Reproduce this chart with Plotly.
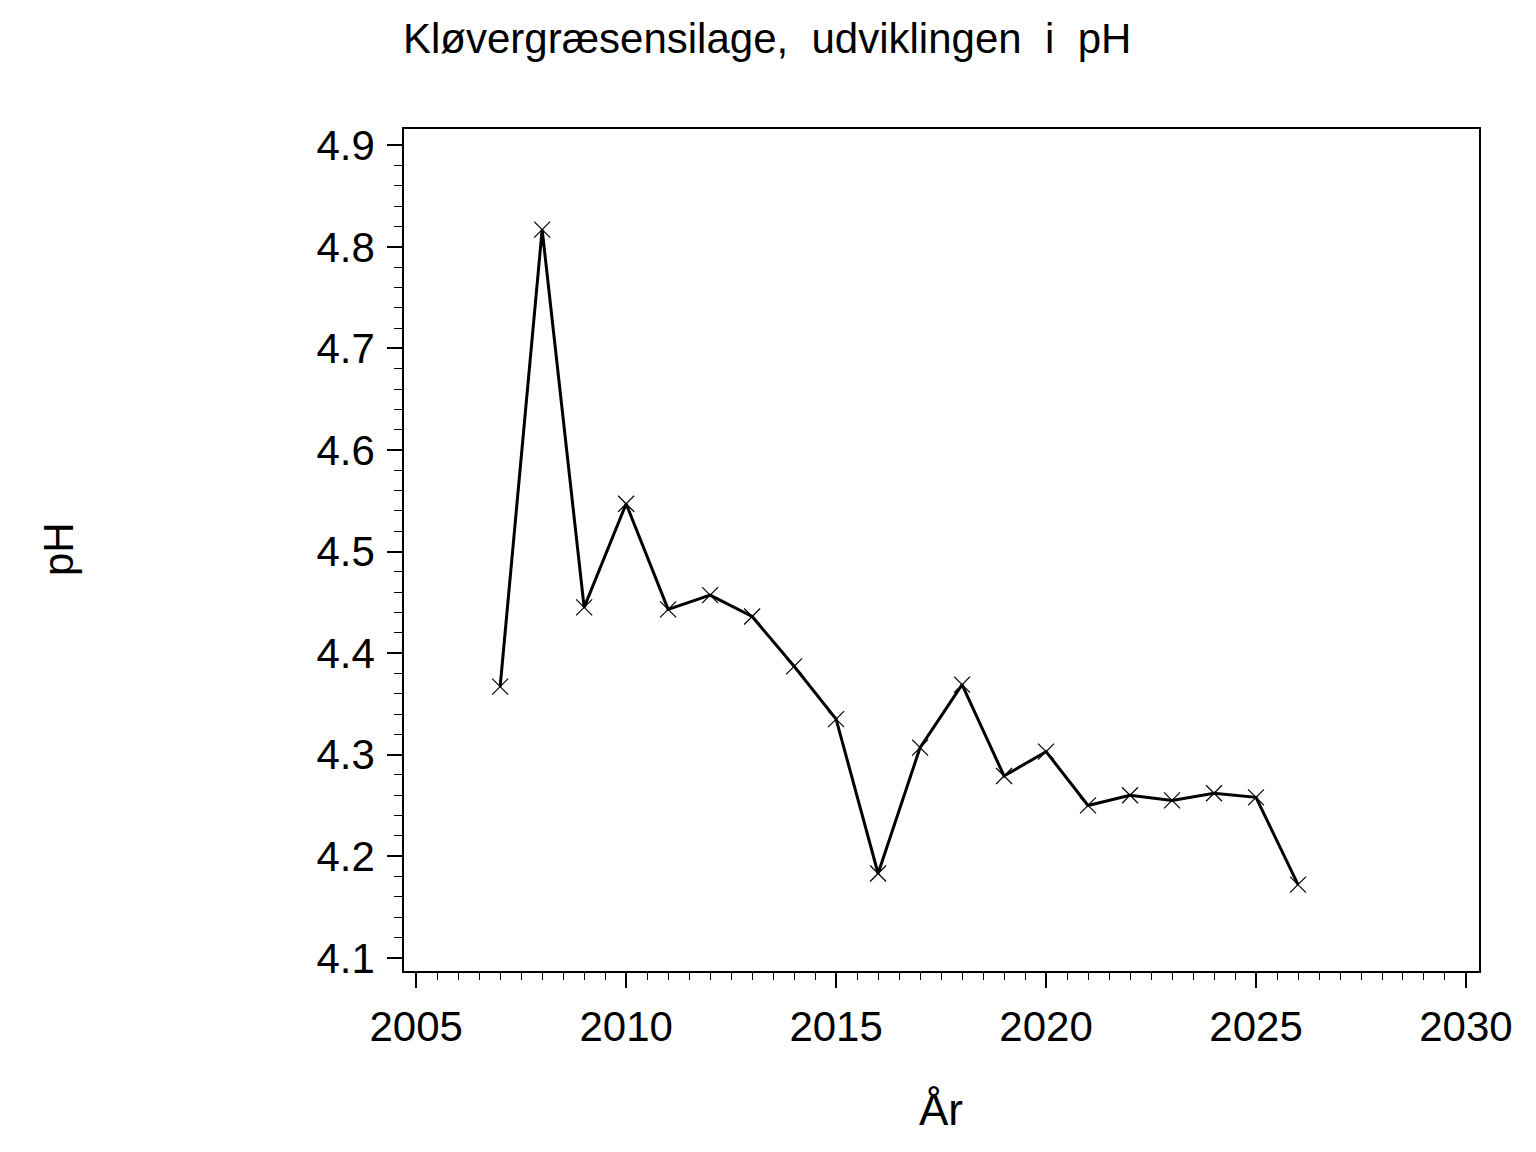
import plotly.graph_objects as go

# values
years = [2007, 2008, 2009, 2010, 2011, 2012, 2013, 2014, 2015, 2016,
         2017, 2018, 2019, 2020, 2021, 2022, 2023, 2024, 2025, 2026]
ph = [4.367, 4.817, 4.445, 4.547, 4.443, 4.457, 4.436, 4.387, 4.335, 4.183,
      4.307, 4.369, 4.279, 4.303, 4.250, 4.260, 4.255, 4.262, 4.258, 4.172]

title_text = "Kløvergræsensilage,\u00a0 udviklingen\u00a0 i\u00a0 pH"
x_label = "År"
y_label = "pH"

FONT = "Liberation Sans, Arial, sans-serif"

fig = go.Figure()

fig.add_trace(go.Scatter(
    x=years,
    y=ph,
    mode="lines+markers",
    line=dict(color="black", width=3),
    marker=dict(symbol="x-thin", size=16, line=dict(color="black", width=1.2), color="black"),
    showlegend=False
))

fig.update_layout(
    width=1536,
    height=1152,
    paper_bgcolor="white",
    plot_bgcolor="white",
    margin=dict(l=396, r=65, t=121, b=189),
    font=dict(family=FONT, color="black"),
    title=dict(text=title_text, x=395 / 1536, xanchor="left", xref="container",
               y=1 - 30 / 1152, yanchor="middle", yref="container",
               font=dict(family=FONT, size=42, color="black")),
)

fig.update_xaxes(
    range=[2004.71, 2030.31],
    tick0=2005, dtick=5,
    ticks="outside", ticklen=15, tickwidth=1.5, tickcolor="black",
    minor=dict(dtick=0.5, tick0=2005, ticks="outside", ticklen=7, tickwidth=1.2, tickcolor="black"),
    showline=True, linecolor="black", linewidth=1.5, mirror=True,
    showgrid=False, zeroline=False,
    tickfont=dict(family=FONT, size=42, color="black"),
    ticklabelstandoff=3,
)
fig.update_yaxes(
    range=[4.087, 4.916],
    tick0=4.1, dtick=0.1, tickformat=".1f",
    ticks="outside", ticklen=15, tickwidth=1.5, tickcolor="black",
    minor=dict(dtick=0.02, tick0=4.1, ticks="outside", ticklen=8, tickwidth=1.2, tickcolor="black"),
    showline=True, linecolor="black", linewidth=1.5, mirror=True,
    showgrid=False, zeroline=False,
    tickfont=dict(family=FONT, size=42, color="black"),
    ticklabelstandoff=4,
)

# axis titles placed as annotations
fig.add_annotation(text=y_label, xref="paper", yref="paper",
                   x=(57 - 403) / 1075, y=(970 - 548) / 842,
                   xanchor="center", yanchor="middle", textangle=-90, showarrow=False,
                   font=dict(family=FONT, size=42, color="black"))
fig.add_annotation(text=x_label, xref="paper", yref="paper",
                   x=(940 - 403) / 1075, y=(970 - 1108) / 842,
                   xanchor="center", yanchor="middle", showarrow=False,
                   font=dict(family=FONT, size=44, color="black"))

fig.write_html("out.html")
